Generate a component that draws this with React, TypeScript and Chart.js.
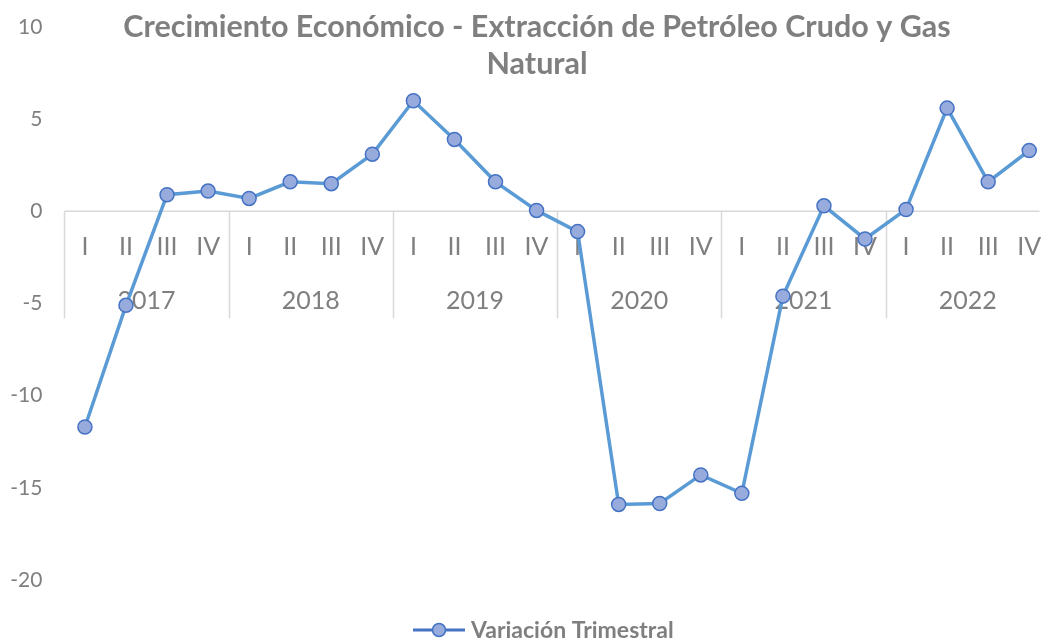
import React, { useEffect, useRef } from "react";
import { Chart, registerables } from "chart.js";

Chart.register(...registerables);

const TITLE_LINES = ["Crecimiento Económico - Extracción de Petróleo Crudo y Gas", "Natural"];
const SERIES_NAME = "Variación Trimestral";
const YEARS = ["2017", "2018", "2019", "2020", "2021", "2022"];
const QUARTERS = ["I", "II", "III", "IV"];
const VALUES = [
  -11.7, -5.1, 0.9, 1.1,
  0.7, 1.6, 1.5, 3.1,
  6.0, 3.9, 1.6, 0.05,
  -1.1, -15.9, -15.85, -14.3,
  -15.3, -4.6, 0.3, -1.5,
  0.1, 5.6, 1.6, 3.3,
];
const Y_MIN = -20;
const Y_MAX = 10;
const Y_STEP = 5;

const GRAY = "#7f7f7f";
const LINE = "#5b9bd5";
const MARK_FILL = "#97abdd";
const MARK_BORDER = "#4472c4";
const FONT = "Lato, 'Open Sans', sans-serif";

const points = VALUES.map((v, i) => ({ x: i, y: v }));

const customPlugin = {
  id: "customDraw",
  beforeDatasetsDraw(chart: any) {
    const { ctx, scales } = chart;
    const x = scales.x;
    const y = scales.y;
    const y0 = y.getPixelForValue(0);
    ctx.save();
    ctx.strokeStyle = "#d9d9d9";
    ctx.lineWidth = 1.5;
    ctx.beginPath();
    ctx.moveTo(x.left, y0);
    ctx.lineTo(x.right, y0);
    ctx.stroke();
    for (let k = 0; k <= YEARS.length; k++) {
      const px = Math.round(x.getPixelForValue(k * QUARTERS.length - 0.5)) + 0.5;
      if (px > x.right + 1) continue;
      ctx.beginPath();
      ctx.moveTo(px, y0);
      ctx.lineTo(px, y0 + 107);
      ctx.stroke();
    }
    ctx.fillStyle = GRAY;
    ctx.textAlign = "center";
    ctx.textBaseline = "middle";
    ctx.font = `25px ${FONT}`;
    YEARS.forEach((yr, k) => {
      QUARTERS.forEach((q, j) => {
        const px = x.getPixelForValue(k * QUARTERS.length + j);
        ctx.fillText(q, px, y0 + 36);
      });
      const cx = x.getPixelForValue(k * QUARTERS.length + (QUARTERS.length - 1) / 2);
      ctx.fillText(yr, cx, y0 + 90);
    });
    ctx.restore();
  },
  afterDraw(chart: any) {
    const { ctx } = chart;
    ctx.save();
    ctx.fillStyle = GRAY;
    ctx.textAlign = "center";
    ctx.textBaseline = "middle";
    ctx.font = `bold 30.5px ${FONT}`;
    TITLE_LINES.forEach((t, i) => ctx.fillText(t, 537, 27 + i * 37));
    // legend
    ctx.font = `bold 23px ${FONT}`;
    ctx.textAlign = "left";
    const ly = 630;
    ctx.strokeStyle = MARK_BORDER;
    ctx.lineWidth = 3;
    ctx.beginPath();
    ctx.moveTo(413, ly);
    ctx.lineTo(465, ly);
    ctx.stroke();
    ctx.beginPath();
    ctx.arc(439, ly, 6.5, 0, Math.PI * 2);
    ctx.fillStyle = MARK_FILL;
    ctx.fill();
    ctx.lineWidth = 1.5;
    ctx.stroke();
    ctx.fillStyle = GRAY;
    ctx.fillText(SERIES_NAME, 471, ly + 1);
    ctx.restore();
  },
};

export default function App() {
  const ref = useRef<HTMLCanvasElement>(null);
  useEffect(() => {
    if (!ref.current) return;
    const chart = new Chart(ref.current, {
      type: "line",
      data: {
        datasets: [
          {
            label: SERIES_NAME,
            data: points,
            borderColor: LINE,
            borderWidth: 3.5,
            pointRadius: 7,
            pointBackgroundColor: MARK_FILL,
            pointBorderColor: MARK_BORDER,
            pointBorderWidth: 1.5,
            tension: 0,
          },
        ],
      },
      options: {
        responsive: false,
        animation: false,
        devicePixelRatio: 1,
        layout: { padding: { top: 27, bottom: 61, left: 0, right: 3 } },
        plugins: {
          legend: { display: false },
          title: { display: false },
          tooltip: { enabled: false },
        },
        scales: {
          x: {
            type: "linear",
            min: -0.5,
            max: 23.25,
            display: false,
          },
          y: {
            min: Y_MIN,
            max: Y_MAX,
            grid: { display: false, drawTicks: false },
            border: { display: false },
            ticks: {
              stepSize: Y_STEP,
              padding: 22,
              color: GRAY,
              font: { family: FONT, size: 21 },
            },
            afterFit(scale: any) {
              scale.width = 64.4;
              scale.paddingTop = 12;
              scale.paddingBottom = 12;
            },
          },
        },
      },
      plugins: [customPlugin],
    });
    return () => chart.destroy();
  }, []);
  return (
    <div style={{ position: "fixed", left: 0, top: 0, width: 1048, height: 641, background: "#fff" }}>
      <canvas ref={ref} width={1048} height={641} />
    </div>
  );
}
